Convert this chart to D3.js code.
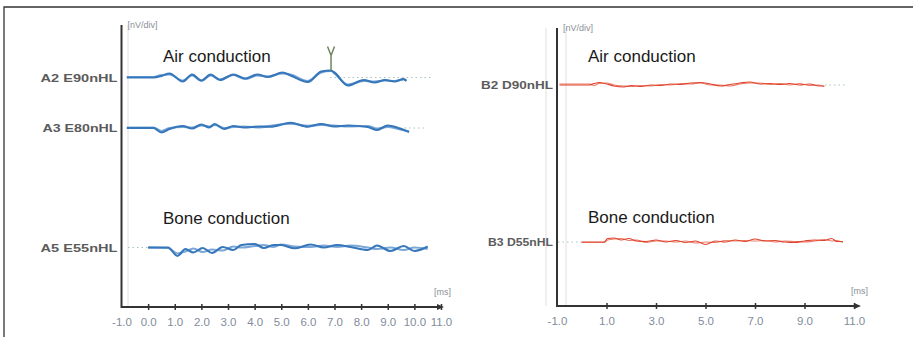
<!DOCTYPE html>
<html><head><meta charset="utf-8">
<script src="https://cdn.jsdelivr.net/npm/d3@7/dist/d3.min.js"></script>
<style>body{margin:0;background:#fff}svg{display:block}</style>
</head><body>
<svg id="c" width="913" height="337"></svg>
<script>
// ---------- DATA ----------
const leftTicks = [-1,0,1,2,3,4,5,6,7,8,9,10,11];
const leftTickLabels = ["-1.0","0.0","1.0","2.0","3.0","4.0","5.0","6.0","7.0","8.0","9.0","10.0","11.0"];
const rightTicks = [-1,1,3,5,7,9,11];
const rightTickLabels = ["-1.0","1.0","3.0","5.0","7.0","9.0","11.0"];
const traceLabels = ["A2 E90nHL","A3 E80nHL","A5 E55nHL","B2 D90nHL","B3 D55nHL"];
const sectionTitles = ["Air conduction","Bone conduction"];
const yUnit = "[nV/div]";
const xUnit = "[ms]";
const waveVLatency = 6.87;   // ms, wave V marker on A2

const a2Time = [-0.8,0.2,0.5,0.8,1.3,1.65,2.0,2.35,2.7,3.2,3.65,4.1,4.5,5.05,5.35,6.0,6.5,6.87,7.0,7.5,8.1,8.5,8.9,9.25,9.6,9.7];
const a2RunA = [0,0,1.5,4,-4,3,-3,3,-2.5,3,-1,3,0.5,5,2,-4.5,6,7,5,-8,-2.5,-5,-2.5,-4,-1.5,-3.5];
const a2RunB = [0.5,0.5,2.5,3,-3,2,-3.5,2,-2,2.5,-1.5,2,1,4,3,-3.5,5,6.5,4,-7,-3.5,-4,-3,-3.5,-2,-3];

const a3Time = [-0.8,0.2,0.5,0.8,1.3,1.65,2.0,2.3,2.5,2.85,3.2,3.6,4.2,4.6,5.35,6.0,6.5,7.0,7.5,8.25,8.6,9.0,9.4,9.8];
const a3RunA = [0,0,-4.5,-1,2,-0.5,3.5,0.5,4,-1,2,0.5,1.5,1.3,5.3,1.3,4,1.5,2.5,1,-2,2.5,0,-4];
const a3RunB = [0.5,0.5,-3,0,1,0.5,2.5,1.5,3,0,1,1.5,0.5,2.3,4.3,2.3,3,2.5,1.5,2,-0.5,1,-1,-3.5];

const a5Time = [0.0,0.75,1.1,1.4,1.7,2.05,2.4,2.8,3.2,3.5,4.0,4.35,4.7,5.0,5.5,6.1,6.6,7.1,7.6,8.25,8.6,9.1,9.6,10.0,10.5];
const a5RunA = [0,0,-8.5,-1.5,-5,-0.5,-5.5,0.5,-2.5,2.5,3.5,-0.5,2.5,2.5,-0.8,3,0,2.5,0.5,-2.5,2,-3.5,1.5,-3.5,1];
const a5RunB = [0,-0.5,-6,-4,-1,-4.5,-2,-3,1,0,1.5,2.5,0.5,3,1,0.5,2,0.5,2,0,-1.5,0,-2.5,0,-1.5];

const b2Time = [-0.9,0.3,0.5,0.7,1.0,1.3,1.7,2.0,2.4,2.8,3.2,3.6,4.0,4.4,4.8,5.2,5.6,6.0,6.4,6.8,7.2,7.6,8.0,8.4,8.8,9.2,9.6,9.8];
const b2RunA = [0,0,1.5,2.5,1,-1,-2,-0.5,-1.5,0,-0.5,1,0.5,2,2.5,1,-1,0.5,2,3,1,1.5,0.5,1.5,0,1,-1,-1];
const b2RunB = [1,1,-0.5,1.5,2,0,-1,-1.5,-0.5,-1,0.5,0,1.5,1,2,0,0,-1,1,2,2,0.5,1.5,0,1.5,-0.5,0,-1.5];

const b3Time = [0.0,0.9,1.05,1.3,1.6,1.9,2.2,2.6,3.0,3.4,3.8,4.2,4.6,5.0,5.4,5.8,6.2,6.6,7.0,7.4,7.8,8.2,8.6,9.0,9.4,9.8,10.1,10.3,10.55];
const b3RunA = [0,0,3.5,4,2,3.5,1,0.5,2,0,1.5,-0.5,1,-2.5,1,0,2,0.5,3,1,1.5,0,-0.5,1,2,1.5,3.5,0.5,0.5];
const b3RunB = [-0.5,-0.5,2,3,3.5,1.5,2,-0.5,1,1,0,1,-1,0,-0.5,1.5,1,1.5,1,1.5,0,1,0.5,0,1,2.5,1,1.5,-0.5];

// ---------- DRAW ----------
const svg = d3.select("#c");
const FONT = "Liberation Sans, Arial, sans-serif";

// outer frame
svg.append("path").attr("d","M4,337 L4,7 L913,7").attr("fill","none").attr("stroke","#333").attr("stroke-width",1.3);

function panel(cfg){
  const g = svg.append("g");
  const x = d3.scaleLinear().domain([-1,11]).range(cfg.xRange);
  const x0 = cfg.xRange[0], axY = cfg.axisY;
  cfg.faint.forEach(fx => g.append("line").attr("x1",fx).attr("x2",fx).attr("y1",cfg.yTop).attr("y2",axY)
     .attr("stroke","#e4dede").attr("stroke-width",1));
  g.append("line").attr("x1",x0).attr("x2",x0).attr("y1",cfg.yTop).attr("y2",axY+1)
    .attr("stroke","#333").attr("stroke-width",2);
  const ax = d3.axisBottom(x).tickValues(cfg.ticks).tickFormat((d,i)=>cfg.tickLabels[i])
      .tickSizeInner(3).tickSizeOuter(0).tickPadding(8);
  const axG = g.append("g").attr("transform",`translate(0,${axY})`).call(ax);
  axG.select(".domain").remove();
  axG.selectAll(".tick line").attr("y1",-3).attr("y2",3).attr("stroke","#333").attr("stroke-width",1.5);
  axG.selectAll(".tick").filter(d=>d===-1).select("line").remove();
  axG.selectAll(".tick text").attr("fill","#7f8c9c").attr("font-family",FONT).attr("font-size",11.5);
  g.append("line").attr("x1",x0).attr("x2",cfg.axisEnd-4).attr("y1",axY).attr("y2",axY)
    .attr("stroke","#333").attr("stroke-width",2);
  g.append("path").attr("d",`M${cfg.axisEnd},${axY} l-7,-3 l0,6 z`).attr("fill","#333");
  g.append("text").attr("x",x0+6).attr("y",cfg.yTop+3).text(yUnit)
    .attr("font-family",FONT).attr("font-size",9).attr("fill","#8a8f98");
  g.append("text").attr("x",cfg.axisEnd-10).attr("y",axY-12).text(xUnit)
    .attr("font-family",FONT).attr("font-size",9).attr("fill","#8a8f98");
  cfg.titles.forEach((t,i)=> g.append("text").attr("x",cfg.titleX).attr("y",cfg.titleY[i]).text(t)
    .attr("font-family",FONT).attr("font-size",17).attr("fill","#1a1a1a"));
  cfg.traces.forEach(tr=>{
    const y = d3.scaleLinear().domain([-10,10]).range([tr.base+10,tr.base-10]);
    tr.dots.forEach(dd => g.append("line").attr("x1",dd[0]).attr("x2",dd[1]).attr("y1",tr.base).attr("y2",tr.base)
      .attr("stroke","#a9c4bc").attr("stroke-width",1).attr("stroke-dasharray","1.5,3"));
    const line = d3.line().x((d,i)=>x(tr.t[i])).y(d=>y(d)).curve(d3.curveMonotoneX);
    g.append("path").attr("d",line(tr.b)).attr("fill","none").attr("stroke",cfg.color2).attr("stroke-width",cfg.w).attr("opacity",0.9);
    g.append("path").attr("d",line(tr.a)).attr("fill","none").attr("stroke",cfg.color).attr("stroke-width",cfg.w);
    g.append("text").attr("x",x0-4).attr("y",tr.base+4).attr("text-anchor","end").text(tr.label)
      .attr("font-family",FONT).attr("font-size",11).attr("font-weight","bold").attr("fill","#333")
      .attr("textLength",tr.lw).attr("lengthAdjust","spacingAndGlyphs").attr("opacity",0.8);
    if(tr.marker){
      const mx = x(tr.marker), my = y(d3.max(tr.a));
      g.append("path").attr("d",`M${mx},${my} L${mx},${my-15} M${mx-3.5},${my-24} L${mx},${my-15} L${mx+3.5},${my-24}`)
        .attr("fill","none").attr("stroke","#6f8560").attr("stroke-width",1.5);
    }
  });
}

panel({
  xRange:[121.5,441], axisY:307, axisEnd:444, yTop:25, faint:[128],
  ticks:leftTicks, tickLabels:leftTickLabels,
  titles:sectionTitles, titleX:163, titleY:[62,224],
  color:"#3676bb", color2:"#6d9fd3", w:2.1,
  traces:[
    {label:traceLabels[0], base:77.5, t:a2Time, a:a2RunA, b:a2RunB, lw:77, dots:[[330,432]], marker:waveVLatency},
    {label:traceLabels[1], base:128, t:a3Time, a:a3RunA, b:a3RunB, lw:75, dots:[[400,426]]},
    {label:traceLabels[2], base:247.5, t:a5Time, a:a5RunA, b:a5RunB, lw:77, dots:[[128,148]]}
  ]
});
panel({
  xRange:[557,854], axisY:306, axisEnd:861, yTop:28, faint:[546,566],
  ticks:rightTicks, tickLabels:rightTickLabels,
  titles:sectionTitles, titleX:588, titleY:[62,223],
  color:"#e0432c", color2:"#e8705c", w:1.2,
  traces:[
    {label:traceLabels[3], base:85, t:b2Time, a:b2RunA, b:b2RunB, lw:72, dots:[[825,845]]},
    {label:traceLabels[4], base:242, t:b3Time, a:b3RunA, b:b3RunB, lw:65, dots:[[558,582]]}
  ]
});
</script>
</body></html>
